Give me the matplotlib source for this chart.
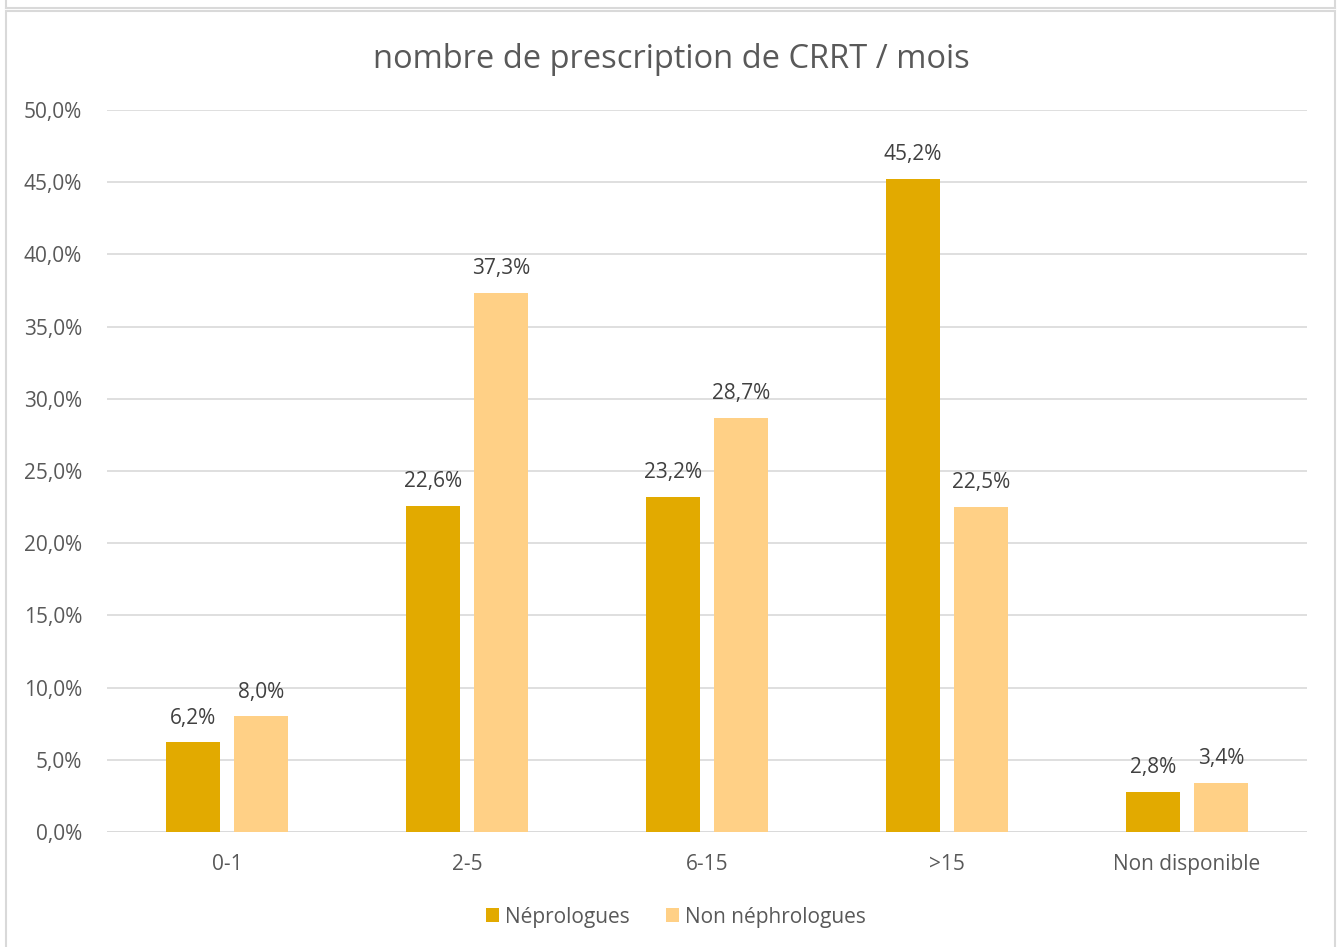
import matplotlib.pyplot as plt
from matplotlib.patches import Rectangle
from matplotlib.lines import Line2D
import numpy as np

categories = ['0-1', '2-5', '6-15', '>15', 'Non disponible']
nephro = [6.2, 22.6, 23.2, 45.2, 2.8]
non_nephro = [8.0, 37.3, 28.7, 22.5, 3.4]
series_names = ['Néprologues', 'Non néphrologues']
yticks = [0, 5, 10, 15, 20, 25, 30, 35, 40, 45, 50]

W, H = 1341, 947
plt.rcParams['font.family'] = ['Open Sans', 'DejaVu Sans']
txt = '#595959'

fig = plt.figure(figsize=(W / 100, H / 100), dpi=100)
ax = fig.add_axes([107 / W, 1 - 832 / H, 1200 / W, (832 - 110) / H])

x = np.arange(len(categories))
w = 0.225
off = 0.142
b1 = ax.bar(x - off, nephro, w, color='#E2AA00', label=series_names[0], zorder=3)
b2 = ax.bar(x + off, non_nephro, w, color='#FFD086', label=series_names[1], zorder=3)

for bars, vals in ((b1, nephro), (b2, non_nephro)):
    for r, v in zip(bars, vals):
        ax.annotate(f'{v:.1f}%'.replace('.', ','), (r.get_x() + r.get_width() / 2, v),
                    xytext=(0, 10), textcoords='offset points',
                    ha='center', va='bottom', fontsize=15, color='#404040')

ax.set_xlim(-0.5, len(categories) - 0.5)
ax.set_ylim(0, 50)
ax.set_yticks(yticks)
ax.set_yticklabels([f'{t:.1f}%'.replace('.', ',') for t in yticks])
ax.set_xticks(x)
ax.set_xticklabels(categories)
ax.tick_params(length=0, labelsize=15, colors=txt)
ax.tick_params(axis='y', pad=18)
ax.tick_params(axis='x', pad=16)
ax.grid(axis='y', color='#D9D9D9', linewidth=1.2, zorder=0)
for s in ax.spines.values():
    s.set_visible(False)
ax.axhline(0, color='#D9D9D9', linewidth=1.2, zorder=2)

fig.text(671 / W, 1 - 59 / H, 'nombre de prescription de CRRT / mois',
         ha='center', va='center', fontsize=23.5, color=txt)

leg = fig.legend(handles=[b1, b2], loc='center', bbox_to_anchor=(676 / W, 1 - 917 / H),
                 ncol=2, frameon=False, fontsize=15, handlelength=0.65, handleheight=0.65,
                 columnspacing=1.7, handletextpad=0.3)
for t in leg.get_texts():
    t.set_color(txt)

# chart frame
fig.patches.append(Rectangle((6 / W, -0.01), (1335 - 6) / W, (H - 11) / H + 0.01,
                             transform=fig.transFigure, fill=False,
                             edgecolor='#D9D9D9', linewidth=1.5))
fig.lines.append(Line2D([6 / W, 1335 / W], [1 - 8 / H, 1 - 8 / H],
                        transform=fig.transFigure, color='#D9D9D9', linewidth=1.5))
for xx in (6, 1335):
    fig.lines.append(Line2D([xx / W, xx / W], [1 - 8 / H, 1.0],
                            transform=fig.transFigure, color='#D9D9D9', linewidth=1.5))

fig.savefig('out.png', dpi=100)
